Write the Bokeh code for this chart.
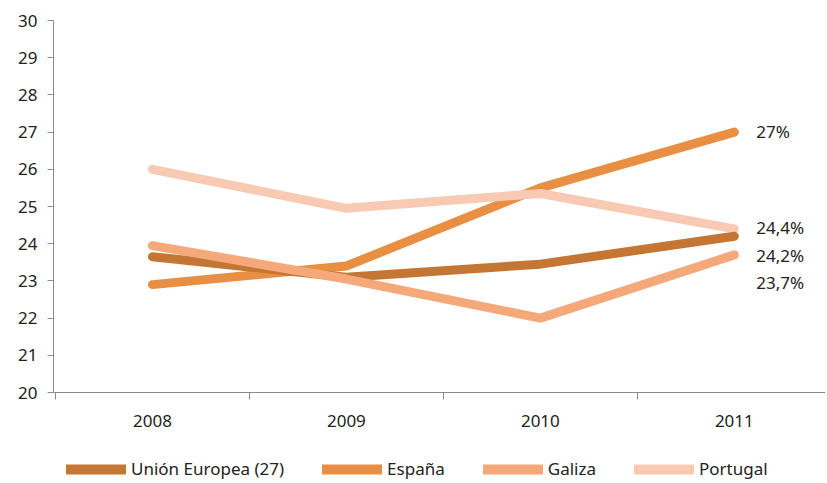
from bokeh.plotting import figure
from bokeh.models import Range1d, FixedTicker, Legend, LegendItem
from bokeh.layouts import column
from bokeh.core.properties import value
from bokeh.embed import file_html
from bokeh.resources import INLINE

years = ["2008", "2009", "2010", "2011"]
ue = [23.65, 23.1, 23.45, 24.2]
espana = [22.9, 23.4, 25.5, 27.0]
galiza = [23.95, 23.05, 22.0, 23.7]
portugal = [26.0, 24.95, 25.35, 24.4]

names = ["Unión Europea (27)", "España", "Galiza", "Portugal"]
colors = ["#c47734", "#e98f43", "#f5a97b", "#f8cab3"]
end_labels = ["24,2%", "27%", "23,7%", "24,4%"]

FONT = "Noto Sans"
FS = "17px"
xs = [1, 2, 3, 4]

p = figure(output_backend="svg", toolbar_location=None,
           x_range=Range1d(0.49, 4.47), y_range=Range1d(20, 30),
           frame_width=772, frame_height=372,
           min_border_left=53, min_border_top=20, min_border_right=0,
           min_border_bottom=50)
p.outline_line_color = None
p.grid.grid_line_color = None
p.background_fill_color = "white"

series = [ue, espana, galiza, portugal]
for idx in [1, 3, 0, 2]:
    p.line(xs, series[idx], line_color=colors[idx], line_width=9,
           line_cap="round", line_join="round")

# end labels
lab_offsets = [20, 0, 29, 0]
for idx in range(4):
    p.text(x=[4], y=[series[idx][-1]], text=[end_labels[idx]], x_offset=22,
           y_offset=lab_offsets[idx] - 1, text_baseline="middle", text_align="left",
           text_font=value(FONT), text_font_size=FS, text_color="#222222")

# x axis
xa = p.xaxis[0]
xa.ticker = FixedTicker(ticks=xs, minor_ticks=[0.5, 1.5, 2.5, 3.5])
xa.major_label_overrides = {x: y for x, y in zip(xs, years)}
xa.major_tick_line_color = None
xa.major_tick_out = 0
xa.major_tick_in = 0
xa.minor_tick_out = 7
xa.minor_tick_in = 0
xa.minor_tick_line_color = "#8a8a8a"
xa.axis_line_color = "#8a8a8a"
xa.major_label_standoff = 15
xa.major_label_text_font = FONT
xa.major_label_text_font_size = FS
xa.major_label_text_color = "#222222"

ya = p.yaxis[0]
ya.ticker = FixedTicker(ticks=list(range(20, 31)))
ya.axis_line_color = "#8a8a8a"
ya.major_tick_line_color = "#8a8a8a"
ya.major_tick_out = 6
ya.major_tick_in = 0
ya.minor_tick_line_color = None
ya.major_label_standoff = 10
ya.major_label_text_font = FONT
ya.major_label_text_font_size = FS
ya.major_label_text_color = "#222222"

# legend in its own strip below the chart (series lines lie outside this strip's range)
p2 = figure(output_backend="svg", toolbar_location=None,
            frame_width=825, frame_height=40,
            min_border_left=0, min_border_top=0, min_border_right=0,
            min_border_bottom=0, x_range=Range1d(0, 1), y_range=Range1d(0, 1))
p2.axis.visible = False
p2.grid.grid_line_color = None
p2.outline_line_color = None
leg_renderers = []
for idx in range(4):
    r = p2.line(xs, series[idx], line_color=colors[idx], line_width=10,
                line_cap="round")
    leg_renderers.append(r)

items = [LegendItem(label=names[i], renderers=[leg_renderers[i]]) for i in range(4)]
legend = Legend(items=items, orientation="horizontal", location=(66, 2),
                glyph_width=60, glyph_height=14, spacing=38, label_standoff=5,
                label_text_font=FONT, label_text_font_size=FS,
                label_text_color="#222222", border_line_color=None,
                background_fill_alpha=0, padding=0, margin=0)
p2.add_layout(legend)

layout = column(p, p2, spacing=0)
open("out.html", "w").write(file_html(layout, INLINE))
